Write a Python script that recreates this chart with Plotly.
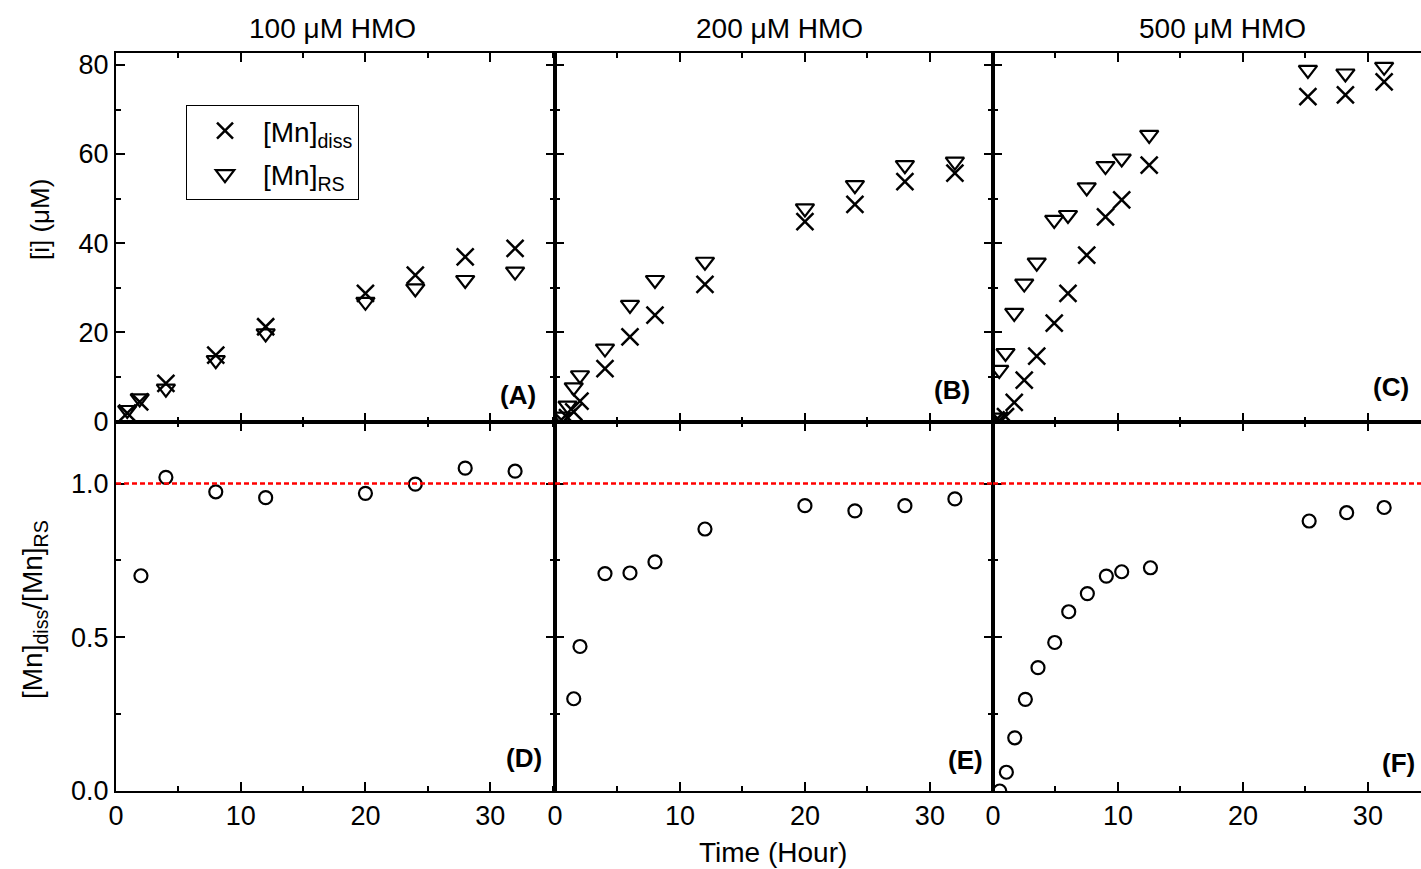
import plotly.graph_objects as go

# ---------------- data ----------------
# Panel A / D : 100 uM HMO
t_A = [0.9, 1.9, 4, 8, 12, 20, 24, 28, 32]
diss_A = [1.8, 4.3, 8.5, 14.8, 21.2, 28.7, 32.8, 36.9, 38.8]
rs_A = [2.5, 5.1, 7.3, 13.7, 19.7, 26.8, 29.8, 31.7, 33.6]
t_D = [2, 4, 8, 12, 20, 24, 28, 32]
ratio_D = [0.70, 1.02, 0.973, 0.954, 0.968, 0.998, 1.05, 1.04]

# Panel B / E : 200 uM HMO
t_B = [0.5, 1, 1.5, 2, 4, 6, 8, 12, 20, 24, 28, 32]
diss_B = [0.3, 0.8, 2.1, 4.5, 11.8, 18.9, 23.8, 30.7, 44.8, 48.7, 53.8, 55.7]
rs_B = [1.0, 3.5, 7.6, 10.3, 16.3, 26.1, 31.7, 35.8, 47.8, 53.0, 57.5, 58.3]
t_E = [1.5, 2, 4, 6, 8, 12, 20, 24, 28, 32]
ratio_E = [0.30, 0.47, 0.707, 0.709, 0.745, 0.852, 0.928, 0.911, 0.928, 0.950]

# Panel C / F : 500 uM HMO
t_C = [0.25, 0.5, 1.0, 1.7, 2.5, 3.5, 4.9, 6.0, 7.5, 9.0, 10.3, 12.5, 25.2, 28.2, 31.3]
diss_C = [0.3, 0.2, 1.0, 4.2, 9.2, 14.6, 22.0, 28.7, 37.3, 45.9, 49.7, 57.5, 72.9, 73.3, 76.2]
rs_C = [0.8, 11.5, 15.3, 24.3, 30.9, 35.6, 45.2, 46.3, 52.5, 57.3, 59.0, 64.3, 78.9, 78.1, 79.6]
t_F = [0.54, 1.07, 1.74, 2.59, 3.6, 4.94, 6.06, 7.55, 9.07, 10.3, 12.6, 25.3, 28.3, 31.3]
ratio_F = [0.0, 0.061, 0.173, 0.298, 0.401, 0.483, 0.583, 0.642, 0.699, 0.713, 0.726, 0.878, 0.905, 0.922]

titles = ["100 \u03bcM HMO", "200 \u03bcM HMO", "500 \u03bcM HMO"]
panel_labels = ["(A)", "(B)", "(C)", "(D)", "(E)", "(F)"]
x_ticks = [0, 10, 20, 30]
top_y_ticks = [0, 20, 40, 60, 80]
bot_y_ticks = [0.0, 0.5, 1.0]

# ---------------- layout geometry ----------------
W, H = 1421, 869
L, R, T, B = 116, 0, 53, 78
PW, PH = W - L - R, H - T - B

def px_x(p):
    return (p - L) / PW

def px_y(p):
    return (H - B - p) / PH

FONT = "Liberation Sans, Arial, Helvetica, sans-serif"
x_dom = [[0, px_x(555)], [px_x(555), px_x(993)], [px_x(993), 1.0]]
y_dom_top = [px_y(422), 1.0]
y_dom_bot = [0.0, px_y(422)]
x_ranges = [[0, 35.2], [0, 35.05], [0, 34.25]]

fig = go.Figure()

X_MARK = dict(symbol="x-thin-open", size=17, color="black", line=dict(color="black", width=2.5))
T_MARK = dict(symbol="triangle-down-open", size=16, color="black", line=dict(color="black", width=2.2))
C_MARK = dict(symbol="circle-open", size=13, color="black", line=dict(color="black", width=2.2))

top_data = [(t_A, diss_A, rs_A), (t_B, diss_B, rs_B), (t_C, diss_C, rs_C)]
bot_data = [(t_D, ratio_D), (t_E, ratio_E), (t_F, ratio_F)]

for i, (t, d, r) in enumerate(top_data):
    xa = "x" if i == 0 else f"x{i+1}"
    ya = "y" if i == 0 else f"y{i+1}"
    fig.add_trace(go.Scatter(x=t, y=d, mode="markers", marker=X_MARK, xaxis=xa, yaxis=ya,
                             name="[Mn]<sub>diss</sub>", showlegend=(i == 0), legendgroup="g1"))
    fig.add_trace(go.Scatter(x=t, y=r, mode="markers", marker=T_MARK, xaxis=xa, yaxis=ya,
                             name="[Mn]<sub>RS</sub>", showlegend=(i == 0), legendgroup="g2"))

for i, (t, q) in enumerate(bot_data):
    fig.add_trace(go.Scatter(x=t, y=q, mode="markers", marker=C_MARK, xaxis=f"x{i+4}", yaxis=f"y{i+4}",
                             showlegend=False))

def axis_style(**kw):
    base = dict(showline=True, linecolor="black", linewidth=2, mirror="ticks",
                ticks="inside", ticklen=9, tickwidth=2, tickcolor="black",
                showgrid=False, zeroline=False,
                tickfont=dict(size=27, family=FONT, color="black"))
    base.update(kw)
    return base

layout = {}
for i in range(3):
    xk = "xaxis" if i == 0 else f"xaxis{i+1}"
    yk = "yaxis" if i == 0 else f"yaxis{i+1}"
    ya = "y" if i == 0 else f"y{i+1}"
    xa = "x" if i == 0 else f"x{i+1}"
    mir = "ticks" if i < 2 else False
    layout[xk] = axis_style(domain=x_dom[i], range=x_ranges[i], anchor=ya, tickvals=x_ticks,
                            showticklabels=False,
                            minor=dict(ticks="inside", ticklen=5, tickwidth=1.5, tickcolor="black", dtick=5, tick0=0))
    layout[yk] = axis_style(domain=y_dom_top, range=[-0.2, 82.7], anchor=xa, tickvals=top_y_ticks,
                            showticklabels=(i == 0), mirror=mir,
                            minor=dict(ticks="inside", ticklen=5, tickwidth=1.5, tickcolor="black", dtick=10, tick0=0))
    layout[f"xaxis{i+4}"] = axis_style(domain=x_dom[i], range=x_ranges[i], anchor=f"y{i+4}", tickvals=x_ticks,
                                       minor=dict(ticks="inside", ticklen=5, tickwidth=1.5, tickcolor="black", dtick=5, tick0=0))
    layout[f"yaxis{i+4}"] = axis_style(domain=y_dom_bot, range=[0, 1.2], anchor=f"x{i+4}", tickvals=bot_y_ticks,
                                       tickformat=".1f", showticklabels=(i == 0), mirror=mir,
                                       minor=dict(ticks="inside", ticklen=5, tickwidth=1.5, tickcolor="black", dtick=0.25, tick0=0))

shapes = []
for i in range(3):
    shapes.append(dict(type="line", xref=f"x{i+4} domain", yref=f"y{i+4}", x0=0, x1=1, y0=1.0, y1=1.0,
                       line=dict(color="red", width=2.5, dash="5px,3px"), layer="above"))

ann = []
title_px = [332, 779, 1222]
for i in range(3):
    ann.append(dict(text=titles[i], x=px_x(title_px[i]), y=px_y(28), xref="paper", yref="paper",
                    showarrow=False, xanchor="center", yanchor="middle",
                    font=dict(size=28, family=FONT, color="black")))
lab_pos = [(538, 395), (972, 390), (1411, 387), (544, 758), (985, 760), (1417, 763)]
for lab, (px, py) in zip(panel_labels, lab_pos):
    ann.append(dict(text=f"<b>{lab}</b>", x=px_x(px), y=px_y(py), xref="paper", yref="paper",
                    showarrow=False, xanchor="right", yanchor="middle",
                    font=dict(size=26, family=FONT, color="black")))
ann.append(dict(text="Time (Hour)", x=px_x(773), y=px_y(853), xref="paper", yref="paper",
                showarrow=False, xanchor="center", yanchor="middle",
                font=dict(size=28, family=FONT, color="black")))
ann.append(dict(text="[i] (\u03bcM)", x=px_x(40), y=px_y(220), xref="paper", yref="paper",
                showarrow=False, xanchor="center", yanchor="middle", textangle=-90,
                font=dict(size=26, family=FONT, color="black")))
ann.append(dict(text="[Mn]<sub>diss</sub>/[Mn]<sub>RS</sub>", x=px_x(34), y=px_y(610), xref="paper", yref="paper",
                showarrow=False, xanchor="center", yanchor="middle", textangle=-90,
                font=dict(size=28, family=FONT, color="black")))

fig.update_layout(
    width=W, height=H,
    margin=dict(l=L, r=R, t=T, b=B),
    plot_bgcolor="white", paper_bgcolor="white",
    font=dict(family=FONT, color="black"),
    shapes=shapes, annotations=ann,
    legend=dict(x=px_x(186), y=px_y(105), xanchor="left", yanchor="top",
                bordercolor="black", borderwidth=1, bgcolor="white",
                font=dict(size=28, family=FONT, color="black"),
                itemwidth=66, tracegroupgap=4),
    **layout,
)

fig.write_html("out.html", config={"displayModeBar": False},
               post_script="document.body.style.margin='0';document.body.style.padding='0';document.body.style.overflow='hidden';")
